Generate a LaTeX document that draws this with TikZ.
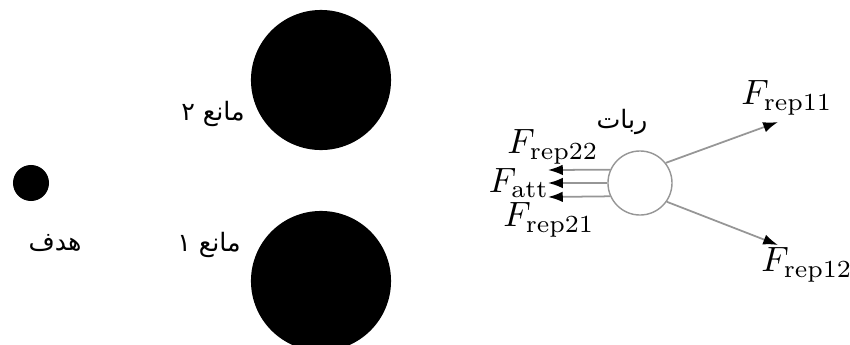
\documentclass[tikz,border=0pt]{standalone}
\usepackage{fontspec}
\usepackage{amsmath}
\newfontfamily\arabicfont[Script=Arabic]{DejaVu Sans}
\TeXXeTstate=1
\usetikzlibrary{arrows.meta}
\definecolor{linegrey}{RGB}{150,150,150}

\begin{document}
\begin{tikzpicture}[
  x=0.01cm, y=-0.01cm,
  blob/.style={circle, fill=black, inner sep=0pt},
  bot/.style={circle, draw=linegrey, fill=white, inner sep=0pt, minimum size=0.64cm},
  force/.style={draw=linegrey, line width=0.5pt, -{Latex[black, length=4.2pt, width=3pt]}},
  fa/.style={font=\arabicfont\fontsize{7.2}{9}\selectfont, inner sep=1pt},
  fm/.style={inner sep=0pt}
]
\useasboundingbox (0,0) rectangle (850,345);
\clip (0,0) rectangle (850,345);
% target and obstacles
\node[blob, minimum size=0.36cm] (goal) at (31,183) {};
\node[blob, minimum size=1.40cm] (obs2) at (321,80) {};
\node[blob, minimum size=1.40cm] (obs1) at (321,281) {};
\node[fa] (goallbl) at (55,243) {\beginR هدف\endR};
\node[fa, anchor=east] (obs2lbl) at (249,114) {\beginR مانع ۲\endR};
\node[fa, anchor=east] (obs1lbl) at (245,245) {\beginR مانع ۱\endR};
% robot and forces
\node[bot] (robot) at (640,183) {};
\node[fa] (robotlbl) at (622,122) {\beginR ربات\endR};
\coordinate (e22) at (548,170);
\coordinate (eatt) at (548,183);
\coordinate (e21) at (548,197);
\coordinate (e11) at (778,122);
\coordinate (e12) at (778,245);
\draw[force] (robot.156) -- (e22);
\draw[force] (robot.180) -- (eatt);
\draw[force] (robot.204) -- (e21);
\draw[force] (robot.38) -- (e11);
\draw[force] (robot.-35) -- (e12);
\node[fm] (f22) at (553,147) {$F_{\mathrm{rep22}}$};
\node[fm] (fatt) at (519,183) {$F_{\mathrm{att}}$};
\node[fm] (f21) at (549,220) {$F_{\mathrm{rep21}}$};
\node[fm] (f11) at (787,98) {$F_{\mathrm{rep11}}$};
\node[fm] (f12) at (807,265) {$F_{\mathrm{rep12}}$};
\end{tikzpicture}
\end{document}
